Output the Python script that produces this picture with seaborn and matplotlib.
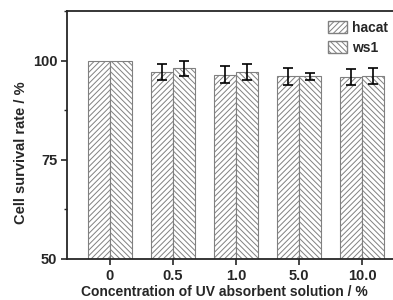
import matplotlib
matplotlib.use('Agg')
import matplotlib.pyplot as plt
import matplotlib.patches as mpatches
from matplotlib.ticker import MultipleLocator
import seaborn as sns
import pandas as pd

# values
concentrations = ['0', '0.5', '1.0', '5.0', '10.0']
hacat = [100, 97.2, 96.5, 96.1, 95.9]
hacat_err = [0, 2.0, 2.1, 2.1, 2.05]
ws1 = [100, 98.1, 97.1, 96.1, 96.1]
ws1_err = [0, 1.9, 2.0, 0.8, 2.05]

data = pd.DataFrame({
    'conc': concentrations * 2,
    'rate': hacat + ws1,
    'cell': ['hacat'] * 5 + ['ws1'] * 5,
})

sns.set_style('ticks')
plt.rcParams['font.family'] = ['Liberation Sans', 'DejaVu Sans']
plt.rcParams['font.weight'] = 'bold'
plt.rcParams['hatch.color'] = '#808080'
plt.rcParams['hatch.linewidth'] = 0.7

fig = plt.figure(figsize=(3.93, 3.0), dpi=100)
ax = fig.add_axes([67 / 393, 1 - 259 / 300, (405 - 67) / 393, (259 - 11) / 300])

sns.barplot(data=data, x='conc', y='rate', hue='cell', order=concentrations,
            hue_order=['hacat', 'ws1'], width=0.7, errorbar=None,
            palette=['white', 'white'], edgecolor='#808080',
            linewidth=0.8, legend=False, ax=ax)

hatches = ['//////'] * 5 + ['\\\\\\\\\\\\'] * 5
for patch, h in zip(ax.patches, hatches):
    patch.set_hatch(h)

# error bars on top of the seaborn bars
errs = hacat_err + ws1_err
for patch, e in zip(ax.patches, errs):
    if e > 0:
        cx = patch.get_x() + patch.get_width() / 2
        ax.errorbar(cx, patch.get_height(), yerr=e, fmt='none', ecolor='black',
                    elinewidth=1.2, capsize=3.5, capthick=1.2)

ax.set_ylim(50, 112.6)
ax.set_xlim(-0.68, 4.68)
ax.yaxis.set_major_locator(MultipleLocator(25))
ax.yaxis.set_minor_locator(MultipleLocator(12.5))
ax.tick_params(axis='both', which='major', direction='out', length=4, width=1.2, labelsize=10.5)
ax.tick_params(axis='x', which='major', pad=3)
ax.tick_params(axis='y', which='major', pad=3)
ax.tick_params(axis='y', which='minor', direction='out', length=2.5, width=1.0)
for s in ax.spines.values():
    s.set_linewidth(1.3)
ax.set_xlabel('Concentration of UV absorbent solution / %', fontsize=10, fontweight='bold')
ax.set_ylabel('Cell survival rate / %', fontsize=10.5, fontweight='bold')
ax.xaxis.set_label_coords(0.467, -0.105)
ax.yaxis.set_label_coords(-0.115, 0.43)
for lab in ax.get_xticklabels() + ax.get_yticklabels():
    lab.set_fontweight('bold')

handles = [mpatches.Patch(facecolor='white', edgecolor='#808080', hatch='//////', label='hacat'),
           mpatches.Patch(facecolor='white', edgecolor='#808080', hatch='\\\\\\\\\\\\', label='ws1')]
fig.legend(handles=handles, loc='upper left', bbox_to_anchor=(328 / 393, 1 - 21 / 300),
           frameon=False, prop={'weight': 'bold', 'size': 10},
           handlelength=1.4, handleheight=1.0, handletextpad=0.35, labelspacing=0.4,
           borderaxespad=0, borderpad=0)

fig.savefig('out.png', dpi=100)
